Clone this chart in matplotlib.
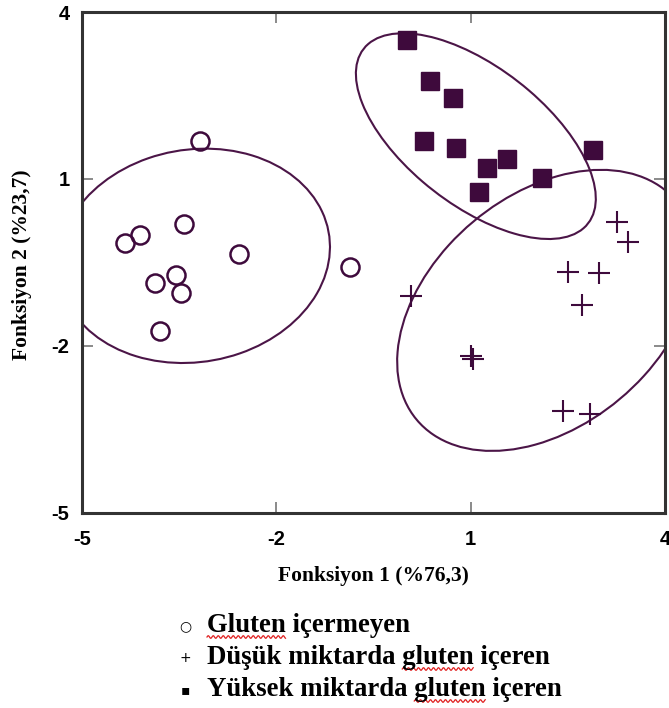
import numpy as np
import matplotlib.pyplot as plt
from matplotlib.patches import Ellipse

plt.rcParams['axes.unicode_minus'] = False

# gluten free (circles)
free_x = [-3.18, -4.34, -4.11, -3.43, -2.58, -3.87, -3.55, -3.47, -3.80, -0.86]
free_y = [1.68, -0.15, 0.00, 0.19, -0.35, -0.87, -0.72, -1.05, -1.73, -0.58]

# low gluten (crosses)
low_x = [3.26, 3.43, 2.50, 2.98, 2.72, 0.08, 1.00, 1.03, 2.42, 2.84]
low_y = [0.23, -0.13, -0.67, -0.69, -1.26, -1.10, -2.18, -2.23, -3.16, -3.22]

# high gluten (squares)
high_x = [0.02, 0.37, 0.73, 0.28, 0.77, 1.25, 1.56, 1.13, 2.10, 2.89]
high_y = [3.50, 2.76, 2.46, 1.68, 1.56, 1.20, 1.36, 0.77, 1.02, 1.52]

# group ellipses: center x, center y, width, height, angle
ell_cx = [-3.27, 1.08, 2.17]
ell_cy = [-0.38, 1.77, -1.36]
ell_w = [4.26, 4.69, 5.67]
ell_h = [3.78, 2.32, 3.82]
ell_ang = [22.0, -44.9, 52.0]

ticks = [-5, -2, 1, 4]
legend_labels = ["Gluten içermeyen",
                 "Düşük miktarda gluten içeren",
                 "Yüksek miktarda gluten içeren"]
legend_syms = ["○", "+", "▪"]
# words with the red spell-check underline (line, word)
squiggle_words = [(0, "Gluten"), (1, "gluten"), (2, "gluten")]

purple = "#3e0a3c"
line_purple = "#4b1547"

fig = plt.figure(figsize=(6.69, 7.08), dpi=100)
ax = fig.add_axes([82/669, 1 - 513/708, 583/669, 501/708])

ax.plot(free_x, free_y, 'o', ms=13, mfc='none', mec=purple, mew=1.8)
ax.plot(low_x, low_y, '+', ms=16, mec=purple, mew=1.5)
ax.plot(high_x, high_y, 's', ms=12.5, mfc=purple, mec=purple)

for i in range(len(ell_cx)):
    e = Ellipse((ell_cx[i], ell_cy[i]), ell_w[i], ell_h[i], angle=ell_ang[i],
                fill=False, ec=line_purple, lw=1.5)
    ax.add_patch(e)

ax.set_xlim(-5, 4)
ax.set_ylim(-5, 4)
ax.set_xticks(ticks)
ax.set_yticks(ticks)
ax.tick_params(direction='in', length=8, width=1.2, color='#777777',
               top=True, right=True, labelsize=14.5)
ax.tick_params(axis='x', pad=12)
ax.tick_params(axis='y', pad=9)
for lab in ax.get_xticklabels() + ax.get_yticklabels():
    lab.set_fontfamily('Liberation Sans')
    lab.set_fontweight('bold')
for s in ax.spines.values():
    s.set_linewidth(2.2)
    s.set_color('#333333')

ax.set_xlabel("Fonksiyon 1 (%76,3)", family='Liberation Serif', weight='bold',
              fontsize=15.5)
ax.set_ylabel("Fonksiyon 2 (%23,7)", family='Liberation Serif', weight='bold',
              fontsize=15.5)
ax.xaxis.set_label_coords(0.5, (513 - 566) / 501)
ax.yaxis.set_label_coords((32 - 82) / 583, 0.495)

texts = []
for i in range(3):
    y = 1 - (626 + 32*i)/708
    fig.text(185/669, y, legend_syms[i], family='DejaVu Sans', fontsize=10,
             ha='center', va='center')
    t = fig.text(207/669, y, legend_labels[i], family='Liberation Serif',
                 weight='bold', fontsize=19.3, ha='left', va='center')
    texts.append(t)

# red wavy underline, measured from the rendered text
fig.canvas.draw()
r = fig.canvas.get_renderer()
W, H = fig.bbox.width, fig.bbox.height
for line, word in squiggle_words:
    t = texts[line]
    full = t.get_text()
    start = full.index(word)
    bb = t.get_window_extent(r)
    tmp = fig.text(0, 0, full[:start], family='Liberation Serif',
                   weight='bold', fontsize=19.3)
    off = tmp.get_window_extent(r).width if start > 0 else 0
    tmp.set_text(word)
    ww = tmp.get_window_extent(r).width
    tmp.remove()
    xs = np.arange(bb.x0 + off, bb.x0 + off + ww, 0.5)
    ys = bb.y0 + 1.5 + 1.3 * np.sin(2 * np.pi * (xs - xs[0]) / 5.0)
    fig.add_artist(plt.Line2D(xs / W, ys / H, transform=fig.transFigure,
                              color='#e02020', lw=0.9))

fig.savefig("out.png", dpi=100)
